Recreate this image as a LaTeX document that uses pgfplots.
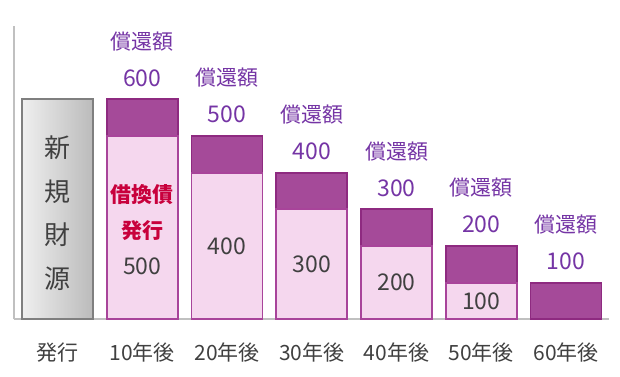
\documentclass[border=0pt]{standalone}
\usepackage{fontspec}
\setmainfont{Noto Sans CJK JP}
\usepackage{pgfplots}
\pgfplotsset{compat=1.18}
\definecolor{axisgray}{HTML}{C0C0C0}
\definecolor{darkbar}{HTML}{A54A99}
\definecolor{darkborder}{HTML}{8E2A80}
\definecolor{lightbar}{HTML}{F5D7EE}
\definecolor{lightborder}{HTML}{A8449A}
\definecolor{labelpurple}{HTML}{7535A5}
\definecolor{txtgray}{HTML}{404040}
\definecolor{crimson}{HTML}{C8003C}
\definecolor{grayL}{HTML}{EFEFEF}
\definecolor{grayR}{HTML}{BBBBBB}
\definecolor{grayborder}{HTML}{7F7F7F}
\newcommand{\numfont}{\fontsize{23}{37}\selectfont}
\begin{document}
\begin{tikzpicture}
\begin{axis}[name=ax, scale only axis, width=595pt, height=293.3pt,
  xmin=-0.513, xmax=6.507, ymin=0, ymax=800,
  axis x line*=bottom, axis y line*=left,
  axis line style={draw=axisgray, line width=2pt, -},
  ytick=\empty, xtick={0,1,2,3,4,5,6},
  xticklabels={発行,10年後,20年後,30年後,40年後,50年後,60年後},
  major tick length=0pt,
  xticklabel style={font=\fontsize{21}{25}\selectfont, text=txtgray, anchor=center, yshift=-33pt},
  /pgf/number format/assume math mode=true,
  clip=false]
% new funds bar
\addplot[ybar, bar width=71pt, bar shift=0pt, draw=grayborder, line width=1.8pt,
  left color=grayL, right color=grayR,
  visualization depends on={y \as \rawy},
  nodes near coords={新\\規\\財\\源},
  every node near coord/.style={anchor=center, align=center, text=txtgray,
    font=\fontsize{26}{43.5}\selectfont, shift={(axis direction cs:0,-\rawy/2)}, yshift=-4pt}]
  coordinates {(0,600)};
% repayment amount (total bar, dark top segment)
\addplot[ybar, bar width=71pt, bar shift=0pt, draw=darkborder, line width=1.8pt, fill=darkbar,
  nodes near coords={償還額\\{\numfont\pgfmathprintnumber{\pgfplotspointmeta}}},
  every node near coord/.style={anchor=south, align=center, inner sep=0pt, text=labelpurple,
    font=\fontsize{21}{37}\selectfont, yshift=12pt}]
  coordinates {(1,600) (2,500) (3,400) (4,300) (5,200) (6,100)};
% refinancing bond, first
\addplot[ybar, bar width=71pt, bar shift=0pt, draw=lightborder, line width=1.8pt, fill=lightbar,
  visualization depends on={y \as \rawy},
  nodes near coords={\textcolor{crimson}{\bfseries 借換債}\\\textcolor{crimson}{\bfseries 発行}\\{\numfont\pgfmathprintnumber{\pgfplotspointmeta}}},
  every node near coord/.style={anchor=center, align=center, text=txtgray,
    font=\fontsize{21}{36}\selectfont, shift={(axis direction cs:0,-\rawy/2)}, yshift=-2pt}]
  coordinates {(1,500)};
% refinancing bond, rest
\addplot[ybar, bar width=71pt, bar shift=0pt, draw=lightborder, line width=1.8pt, fill=lightbar,
  visualization depends on={y \as \rawy},
  nodes near coords={\pgfmathprintnumber{\pgfplotspointmeta}},
  every node near coord/.style={anchor=center, text=txtgray,
    font=\numfont, shift={(axis direction cs:0,-\rawy/2)}}]
  coordinates {(2,400) (3,300) (4,200) (5,100)};
\end{axis}
\pgfresetboundingbox
\useasboundingbox ([xshift=-14pt,yshift=-57pt]ax.south west) rectangle ([xshift=11pt,yshift=26pt]ax.north east);
\end{tikzpicture}
\end{document}
